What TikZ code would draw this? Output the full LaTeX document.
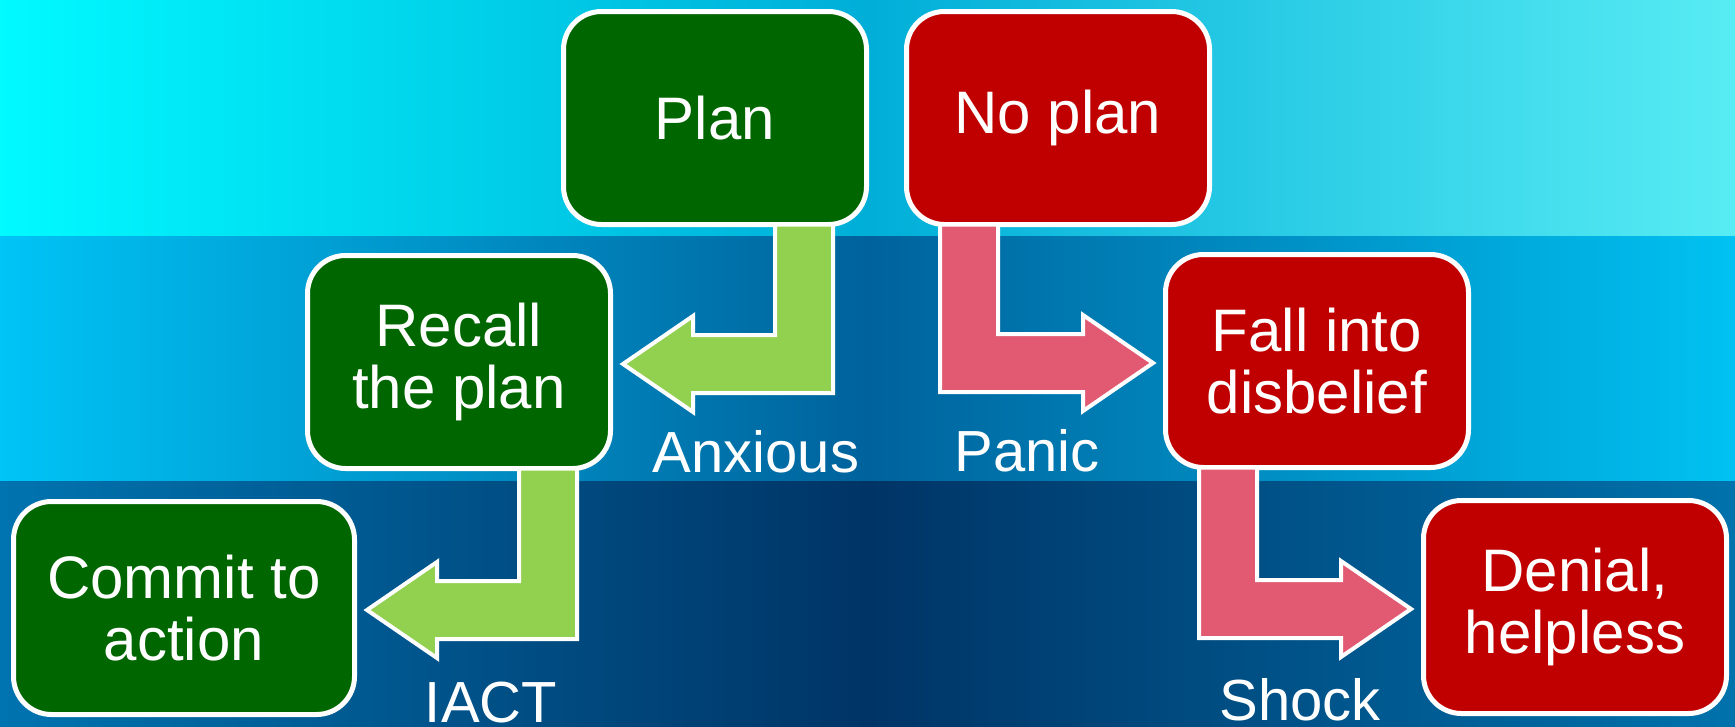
\documentclass[tikz,border=0pt]{standalone}
\usepackage{fontspec}
\setmainfont{Liberation Sans}
\usetikzlibrary{calc}

\definecolor{boxgreen}{HTML}{006600}
\definecolor{boxred}{HTML}{C00000}
\definecolor{arrowgreen}{HTML}{92D050}
\definecolor{arrowpink}{HTML}{E15A72}
\definecolor{topleft}{HTML}{00FAFF}
\definecolor{topmid}{HTML}{00AED8}
\definecolor{topright}{HTML}{58ECF4}
\definecolor{midleft}{HTML}{00C4F6}
\definecolor{midmid}{HTML}{00629C}
\definecolor{midright}{HTML}{00C2F2}
\definecolor{lowleft}{HTML}{0074B0}
\definecolor{lowmid}{HTML}{003466}
\definecolor{lowright}{HTML}{0072AC}

\begin{document}
\begin{tikzpicture}[x=1pt, y=-1pt,
    greenbox/.style = {draw=white, line width=5pt, fill=boxgreen, rounded corners=38pt,
        minimum width=303pt, minimum height=213pt, text=white, align=center,
        font=\fontsize{60}{62}\selectfont},
    redbox/.style = {greenbox, fill=boxred},
    feeling/.style = {text=white, anchor=base, font=\fontsize{58}{60}\selectfont},
    greenarrow/.style = {draw=white, line width=4pt, fill=arrowgreen},
    pinkarrow/.style = {draw=white, line width=4pt, fill=arrowpink},
    bentleft/.style = {to path={
        let \p1=(\tikztostart.south), \p2=(\tikztotarget.east) in
        (\x1+118pt,\y1+2.5pt) -- (\x1+118pt,\y2-31pt) -- (\x2+80pt,\y2-31pt)
        -- (\x2+80pt,\y2-50pt) -- (\x2+10pt,\y2-2pt) -- (\x2+80pt,\y2+46pt)
        -- (\x2+80pt,\y2+27pt) -- (\x1+60pt,\y2+27pt) -- (\x1+60pt,\y1+2.5pt) -- cycle}},
    bentright/.style = {to path={
        let \p1=(\tikztostart.south), \p2=(\tikztotarget.west) in
        (\x1-118pt,\y1+2.5pt) -- (\x1-118pt,\y2-31pt) -- (\x2-80pt,\y2-31pt)
        -- (\x2-80pt,\y2-50pt) -- (\x2-10pt,\y2-2pt) -- (\x2-80pt,\y2+46pt)
        -- (\x2-80pt,\y2+27pt) -- (\x1-60pt,\y2+27pt) -- (\x1-60pt,\y1+2.5pt) -- cycle}}]

    % background bands
    \fill[left color=topleft, right color=topright, middle color=topmid] (0,0) rectangle (1735,236);
    \fill[left color=midleft, right color=midright, middle color=midmid] (0,236) rectangle (1735,481);
    \fill[left color=lowleft, right color=lowright, middle color=lowmid] (0,481) rectangle (1735,726);
    \useasboundingbox (0,0) rectangle (1735,726);

    \node[greenbox] at (715, 118) (plan) {Plan};
    \node[redbox] at (1058, 118) (noplan) {No plan};
    \node[greenbox] at (459, 362) (recall) {Recall\\the plan};
    \node[redbox] at (1317, 361) (disbelief) {Fall into\\disbelief};
    \node[greenbox, minimum width=341pt] at (184, 608) (commit) {Commit to\\action};
    \node[redbox] at (1575, 607) (denial) {Denial,\\helpless};

    \draw[greenarrow] (plan) to[bentleft] (recall);
    \draw[greenarrow] (recall) to[bentleft] (commit);
    \draw[pinkarrow] (noplan) to[bentright] (disbelief);
    \draw[pinkarrow] (disbelief) to[bentright] (denial);

    \node[feeling] at (756, 472) (anxious) {Anxious};
    \node[feeling] at (1027, 471) (panic) {Panic};
    \node[feeling] at (491, 722) (iact) {IACT};
    \node[feeling] at (1300, 720) (shock) {Shock};
\end{tikzpicture}
\end{document}
